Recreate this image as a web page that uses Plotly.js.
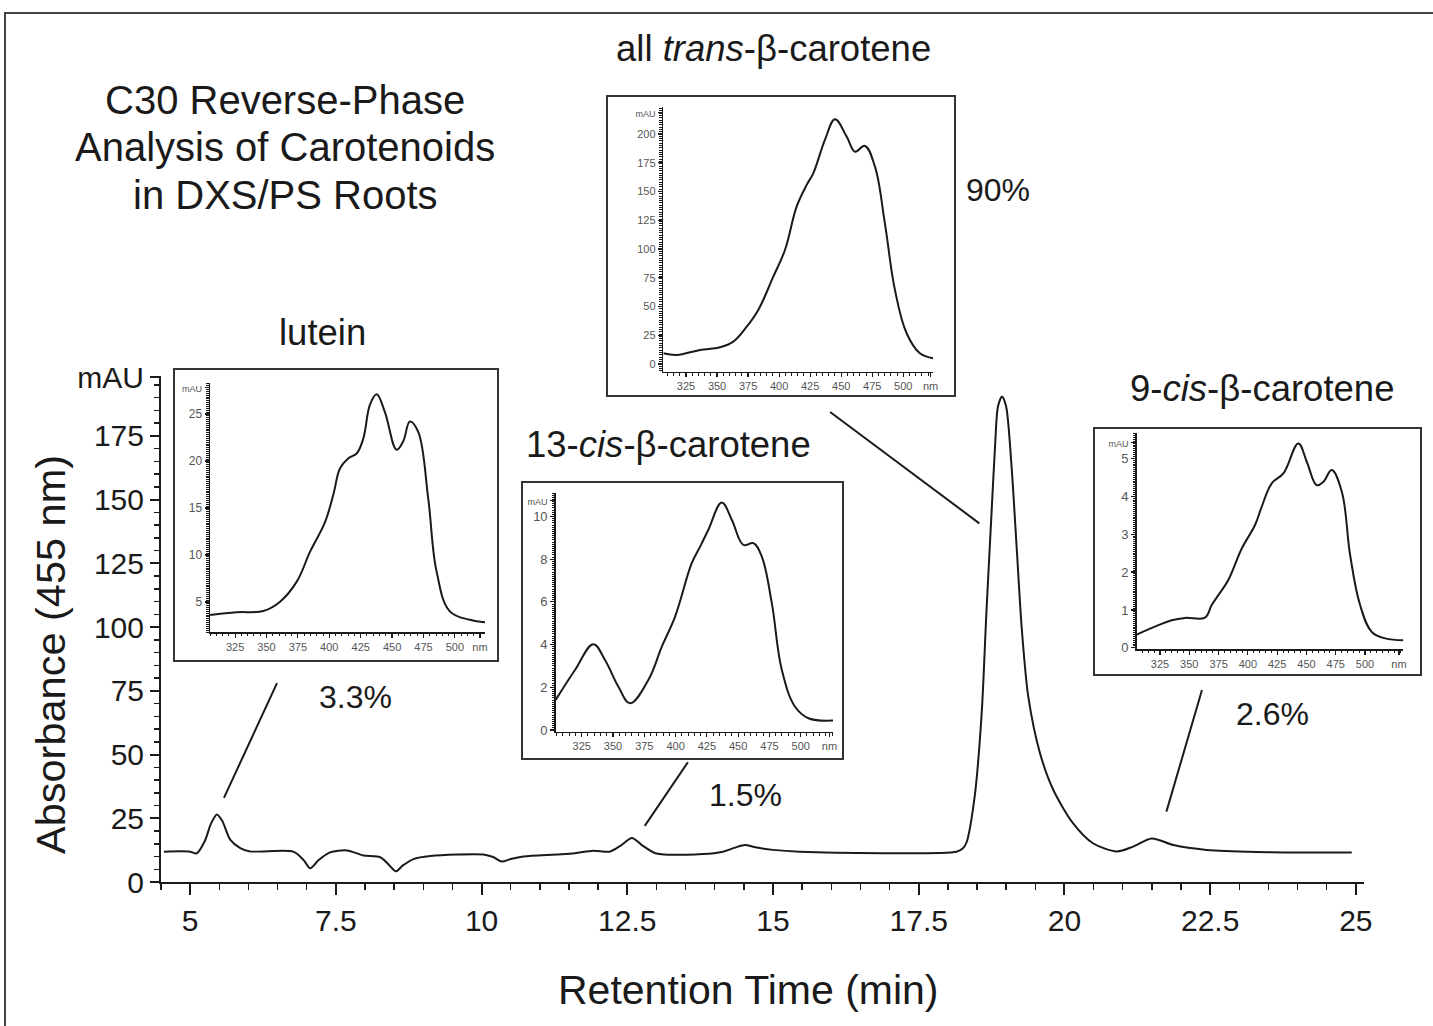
<!DOCTYPE html>
<html>
<head>
<meta charset="utf-8">
<script src="https://cdn.plot.ly/plotly-3.0.1.min.js"></script>
<style>html,body{margin:0;padding:0;background:#fff}#chart{width:1433px;height:1026px}</style>
</head>
<body>
<div id="chart"></div>
<script>
// ---------- DATA ----------
// Main chromatogram (retention time in min, absorbance at 455 nm in mAU)
const mainTime = [4.55,5.0,5.11,5.25,5.36,5.46,5.55,5.69,5.86,6.03,6.77,6.95,7.06,7.2,7.40,7.69,7.97,8.26,8.4,8.53,8.65,8.83,9.12,10.03,10.2,10.35,10.5,10.72,11.29,11.6,11.92,12.2,12.4,12.58,12.75,13.0,13.8,14.14,14.35,14.52,14.7,15.0,15.46,18.15,18.25,18.32,18.46,18.58,18.66,18.75,18.81,18.86,18.93,19.0,19.09,19.18,19.27,19.38,19.58,19.81,20.15,20.49,20.90,21.18,21.50,21.87,22.44,23.30,24.93];
const mainAbs  = [11.9,11.9,11.2,16,23,26.5,24,16.5,13.3,12.0,11.9,8.5,5.4,8.5,11.6,12.4,10.4,9.7,7,4.2,6.5,9.0,10.2,10.8,9.8,8.0,9,10.0,10.8,11.3,12.3,11.9,14.5,17.3,14.5,11.2,11.0,11.9,13.5,14.5,13.6,12.6,11.9,11.9,13,15.5,33.5,66,105,145,171,186.5,190.5,186.5,164,131.5,98.9,72.7,50.6,36.1,23.0,15.2,12.0,13.9,17.1,14.5,12.6,11.8,11.6];
const mainXTickLabelStep = 2.5;
const mainYTicks = [0,25,50,75,100,125,150,175,198];
const mainYTickText = ['0','25','50','75','100','125','150','175','mAU'];

// Inset UV-Vis spectra (wavelength nm, absorbance mAU)
const luteinNm  = [305.1,326.3,347.5,360.8,374.1,384.7,396.6,403.2,408.5,415.2,421.8,427.1,432.4,437.7,444.3,453.6,458.9,464.2,470.8,478.8,485.5,496,512,524];
const luteinAbs = [3.62,3.9,4.04,5.03,7.16,10.35,13.5,16.4,19.2,20.3,20.8,22.4,26.0,27.1,25.2,21.2,22.1,24.2,23.1,16.0,8.2,4.0,3.1,2.84];
const cis13Nm   = [304.2,319.6,334.3,343.6,354.3,363.6,378.2,389,399.6,412.9,419.6,426.2,436.9,444.9,454.2,462.2,468.9,476.9,484.9,495.5,506.2,526.2];
const cis13Abs  = [1.41,2.81,4.02,3.28,2.03,1.25,2.34,3.9,5.31,7.81,8.59,9.38,10.66,9.85,8.67,8.75,8.12,5.94,2.81,1.09,0.55,0.44];
const transNm   = [306.7,317.5,336.3,352.4,363.1,373.9,383.2,395.3,404.7,414.1,422.2,427.5,436.9,445,454.4,461.1,469.1,477.2,485.2,493.3,502.7,513.4,524.1];
const transAbs  = [9.3,7.8,12.2,14.5,19.4,32.4,47,75.9,99.1,136.8,155.7,165.8,194.8,212.8,197.7,184.6,189.6,171.6,122.3,64.3,26.7,9.3,5];
const cis9Nm    = [305.1,323.6,335,346.3,363.4,369.1,374.8,383.3,394.8,406.1,411.8,420.4,430.3,443.1,450.3,458.8,464.5,471.6,480.2,487.3,495.8,505.8,517.2,532.9];
const cis9Abs   = [0.35,0.6,0.73,0.79,0.8,1.13,1.39,1.79,2.62,3.24,3.72,4.34,4.6,5.39,4.91,4.29,4.38,4.69,4.12,2.45,1.13,0.42,0.25,0.2];

// Inset tick labels
const nmTickVals = [325,350,375,400,425,450,475,500];
const luteinYTicks = [5,10,15,20,25];
const cis13YTicks = [0,2,4,6,8,10];
const transYTicks = [0,25,50,75,100,125,150,175,200];
const cis9YTicks = [0,1,2,3,4,5];

// Text
const chartTitleLines = ['C30 Reverse-Phase','Analysis of Carotenoids','in DXS/PS Roots'];
const compoundNames = ['lutein','13-<i>cis</i>-β-carotene','all <i>trans</i>-β-carotene','9-<i>cis</i>-β-carotene'];
const compoundShares = ['3.3%','1.5%','90%','2.6%'];
const xTitle = 'Retention Time (min)';
const yTitle = 'Absorbance (455 nm)';

// ---------- LAYOUT HELPERS ----------
const W = 1433, H = 1026;
const PX = v => v / W;
const PY = v => 1 - v / H;
const FONT = 'Arial, "Liberation Sans", Helvetica, sans-serif';
const INK = '#1a1a1a';

// leader lines in main data coordinates [x0,y0,x1,y1]
const leaders = [
  [5.58,33,6.49,78],
  [12.80,22,13.54,47],
  [18.54,140.7,15.98,184.4],
  [21.75,27.6,22.36,75.3]
];

function insetAxes(xdom, ydom, xr, yr, yticks, mauPos, nmPos, yfs) {
  const tv = nmTickVals.concat([nmPos]);
  const tt = nmTickVals.map(String).concat(['nm']);
  const ytv = yticks.concat([mauPos]);
  const ytt = yticks.map(String).concat(['<span style="font-size:9px">mAU</span>']);
  return [{
    domain: [PX(xdom[0]), PX(xdom[1])], range: xr, showline: true, linecolor: INK, linewidth: 1.5,
    ticks: 'outside', ticklen: 4, tickwidth: 1.2, tickcolor: INK, tickmode: 'array', tickvals: tv, ticktext: tt,
    tickfont: {family: FONT, size: 11, color: '#555'}, showgrid: false, zeroline: false, fixedrange: true,
    minor: {tickmode: 'linear', tick0: 300, dtick: 5, ticks: 'outside', ticklen: 2.5, tickcolor: INK, tickwidth: 1}
  }, {
    domain: [PY(ydom[0]), PY(ydom[1])], range: yr, showline: true, linecolor: INK, linewidth: 1.5,
    ticks: 'outside', ticklen: 4, tickwidth: 1.2, tickcolor: INK, tickmode: 'array', tickvals: ytv, ticktext: ytt,
    tickfont: {family: FONT, size: yfs, color: '#555'}, showgrid: false, zeroline: false, fixedrange: true,
    minor: {ticks: 'outside', ticklen: 2.5, tickcolor: INK, tickwidth: 1, nticks: 40}
  }];
}

const [x2, y2] = insetAxes([210,485],[632,383],[305,524],[1.8,28.3],luteinYTicks,27.8,520,12);
const [x3, y3] = insetAxes([555.7,833],[731.7,493],[304.2,525.8],[-0.08,11.1],cis13YTicks,10.75,523,13);
const [x4, y4] = insetAxes([663.3,933.3],[371.7,106.7],[306.7,524.2],[-6.7,223.7],transYTicks,218.5,522,11);
const [x5, y5] = insetAxes([1136.7,1403.3],[649,433.3],[305.1,532.7],[-0.03,5.66],cis9YTicks,5.42,529,13);
x2.anchor='y2'; y2.anchor='x2';
x3.anchor='y3'; y3.anchor='x3';
x4.anchor='y4'; y4.anchor='x4';
x5.anchor='y5'; y5.anchor='x5';

const mainLine = {color: INK, width: 2, shape: 'spline', smoothing: 0.8};
const insetLine = {color: INK, width: 2, shape: 'spline', smoothing: 1.1};
const traces = [
  {x: mainTime, y: mainAbs, xaxis: 'x', yaxis: 'y', mode: 'lines', line: mainLine, hoverinfo: 'skip'},
  {x: luteinNm, y: luteinAbs, xaxis: 'x2', yaxis: 'y2', mode: 'lines', line: insetLine, hoverinfo: 'skip'},
  {x: cis13Nm, y: cis13Abs, xaxis: 'x3', yaxis: 'y3', mode: 'lines', line: insetLine, hoverinfo: 'skip'},
  {x: transNm, y: transAbs, xaxis: 'x4', yaxis: 'y4', mode: 'lines', line: insetLine, hoverinfo: 'skip'},
  {x: cis9Nm, y: cis9Abs, xaxis: 'x5', yaxis: 'y5', mode: 'lines', line: insetLine, hoverinfo: 'skip'}
];

const boxes = [[174,369,498,661],[522,482,843,759],[607,96,955,396],[1094,428,1421,675]];
const shapes = [];
shapes.push({type:'rect', xref:'paper', yref:'paper', x0:PX(5), x1:PX(1445), y0:PY(1040), y1:PY(13), line:{color:'#444', width:2}, fillcolor:'rgba(0,0,0,0)', layer:'below'});
boxes.forEach(b => shapes.push({type:'rect', xref:'paper', yref:'paper', x0:PX(b[0]), x1:PX(b[2]), y0:PY(b[3]), y1:PY(b[1]), line:{color:'#333', width:2}, fillcolor:'rgba(0,0,0,0)'}));
leaders.forEach(l => shapes.push({type:'line', xref:'x', yref:'y', x0:l[0], y0:l[1], x1:l[2], y1:l[3], line:{color:INK, width:2}}));

const titleY = [100,147,195];
const namePos = [[322,332],[668,444],[773,48],[1262,388]];
const sharePos = [[355,697],[745,795],[998,190],[1272,714]];
const annotations = [];
chartTitleLines.forEach((t,i) => annotations.push({text: t, xref:'paper', yref:'paper', x:PX(285), y:PY(titleY[i]), xanchor:'center', yanchor:'middle', showarrow:false, font:{family:FONT, size:40, color:INK}}));
compoundNames.forEach((t,i) => annotations.push({text:t, xref:'paper', yref:'paper', x:PX(namePos[i][0]), y:PY(namePos[i][1]), xanchor:'center', yanchor:'middle', showarrow:false, font:{family:FONT, size:36.5, color:INK}}));
compoundShares.forEach((t,i) => annotations.push({text:t, xref:'paper', yref:'paper', x:PX(sharePos[i][0]), y:PY(sharePos[i][1]), xanchor:'center', yanchor:'middle', showarrow:false, font:{family:FONT, size:32, color:INK}}));
annotations.push({text:xTitle, xref:'paper', yref:'paper', x:PX(748), y:PY(990), xanchor:'center', yanchor:'middle', showarrow:false, font:{family:FONT, size:41, color:INK}});
annotations.push({text:yTitle, xref:'paper', yref:'paper', x:PX(50), y:PY(655), xanchor:'center', yanchor:'middle', textangle:-90, showarrow:false, font:{family:FONT, size:41.5, color:INK}});

const layout = {
  width: W, height: H, margin: {l:0, r:0, t:0, b:0}, paper_bgcolor:'#fff', plot_bgcolor:'rgba(0,0,0,0)',
  showlegend: false, font: {family: FONT, color: INK},
  xaxis: {
    domain:[PX(161), PX(1364)], range:[4.5, 25.14], anchor:'y', showline:true, linecolor:INK, linewidth:2,
    ticks:'outside', ticklen:11, tickwidth:2, tickcolor:INK, tickmode:'linear', tick0:0, dtick:mainXTickLabelStep,
    tickfont:{family:FONT, size:30, color:INK}, showgrid:false, zeroline:false, fixedrange:true,
    minor:{tickmode:'linear', tick0:0, dtick:0.5, ticks:'outside', ticklen:6, tickwidth:1.5, tickcolor:INK}
  },
  yaxis: {
    domain:[PY(882), PY(376)], range:[0, 198.5], anchor:'x', showline:true, linecolor:INK, linewidth:2,
    ticks:'outside', ticklen:9, tickwidth:2, tickcolor:INK, tickmode:'array', tickvals:mainYTicks, ticktext:mainYTickText,
    tickfont:{family:FONT, size:30, color:INK}, showgrid:false, zeroline:false, fixedrange:true,
    minor:{tickmode:'linear', tick0:0, dtick:5, ticks:'outside', ticklen:5, tickwidth:1.5, tickcolor:INK}
  },
  xaxis2:x2, yaxis2:y2, xaxis3:x3, yaxis3:y3, xaxis4:x4, yaxis4:y4, xaxis5:x5, yaxis5:y5,
  shapes: shapes, annotations: annotations
};

Plotly.newPlot('chart', traces, layout, {staticPlot:true, displayModeBar:false});
</script>
</body>
</html>
